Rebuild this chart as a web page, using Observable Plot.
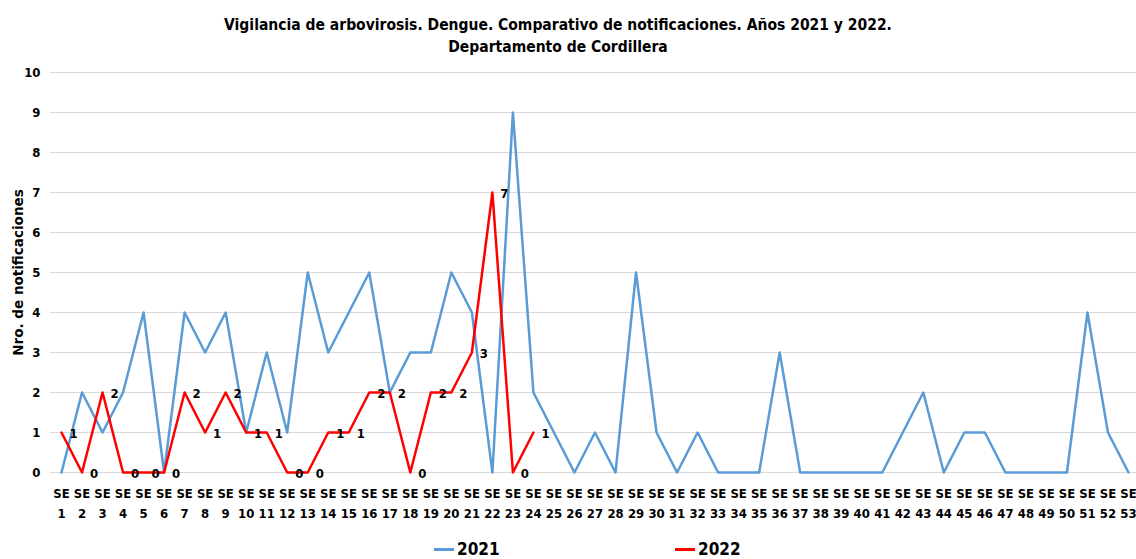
<!DOCTYPE html>
<html>
<head>
<meta charset="utf-8">
<script src="https://cdn.jsdelivr.net/npm/d3@7"></script>
<script src="https://cdn.jsdelivr.net/npm/@observablehq/plot@0.6"></script>
<style>
  body { margin: 0; background: #fff; font-family: "DejaVu Sans Condensed", "DejaVu Sans", sans-serif; }
  #wrap { position: relative; width: 1136px; height: 559px; }
  #title { height: 60px; box-sizing: border-box; padding-top: 14px; padding-right: 20px; text-align: center; font-weight: bold; font-size: 15.5px; line-height: 22px; color: #000; }
  #chart svg { display: block; }
  .leg { position: absolute; top: 538px; height: 22px; display: flex; align-items: center; font-weight: bold; font-size: 17px; color: #000; }
  .sw { width: 20px; height: 3px; margin-right: 3px; }
</style>
</head>
<body>
<div id="wrap">
  <div id="title">Vigilancia de arbovirosis. Dengue. Comparativo de notificaciones. Años 2021 y 2022.<br>Departamento de Cordillera</div>
  <div id="chart"></div>
  <div class="leg" style="left:434px"><div class="sw" style="background:#5B9BD5"></div>2021</div>
  <div class="leg" style="left:675px"><div class="sw" style="background:#FF0000"></div>2022</div>
</div>
<script>
const weeks = [1,2,3,4,5,6,7,8,9,10,11,12,13,14,15,16,17,18,19,20,21,22,23,24,25,26,27,28,29,30,31,32,33,34,35,36,37,38,39,40,41,42,43,44,45,46,47,48,49,50,51,52,53];
const tickPrefix = "SE";
const casos2021 = [0,2,1,2,4,0,4,3,4,1, 3,1,5,3,4,5,2,3,3,5, 4,0,9,2,1,0,1,0,5,1, 0,1,0,0,0,3,0,0,0,0, 0,1,2,0,1,1,0,0,0,0, 4,1,0];
const casos2022 = [1,0,2,0,0,0,2,1,2,1, 1,0,0,1,1,2,2,0,2,2, 3,7,0,1];
const yTicks = [0,1,2,3,4,5,6,7,8,9,10];
const yLabel = "Nro. de notificaciones";

const d2021 = casos2021.map((v, i) => ({week: weeks[i], value: v}));
const d2022 = casos2022.map((v, i) => ({week: weeks[i], value: v}));

const font = "DejaVu Sans Condensed, DejaVu Sans, sans-serif";

const chart = Plot.plot({
  width: 1136,
  height: 470,
  marginLeft: 50,
  marginRight: 0,
  marginTop: 12,
  marginBottom: 58,
  style: {fontFamily: font, background: "#fff", color: "#000"},
  x: {type: "linear", domain: [0.464, 53.39]},
  y: {domain: [0, 10]},
  marks: [
    Plot.gridY(yTicks, {stroke: "#d9d9d9", strokeOpacity: 1, strokeWidth: 1}),
    Plot.axisY(yTicks, {tickSize: 0, tickPadding: 10, fontSize: 13, fontWeight: "bold", label: null}),
    Plot.text([yLabel], {frameAnchor: "left", textAnchor: "middle", dx: -32, rotate: -90, fontSize: 13.5, fontWeight: "bold", fontFamily: "DejaVu Sans, sans-serif", fill: "#000", text: d => d, style: "letter-spacing:0.6px"}),
    Plot.axisX(weeks, {tickSize: 0, tickPadding: 11, fontSize: 13, fontWeight: "bold", lineHeight: 1.55, tickFormat: d => `${tickPrefix}\n${d}`, label: null}),
    Plot.line(d2021, {x: "week", y: "value", stroke: "#5B9BD5", strokeWidth: 2.5}),
    Plot.line(d2022, {x: "week", y: "value", stroke: "#FF0000", strokeWidth: 2.5}),
    Plot.text(d2022, {x: "week", y: "value", text: d => String(d.value), dx: 12, dy: 1, fontSize: 13, fontWeight: "bold", fill: "#000"})
  ]
});
document.getElementById("chart").appendChild(chart);
</script>
</body>
</html>
